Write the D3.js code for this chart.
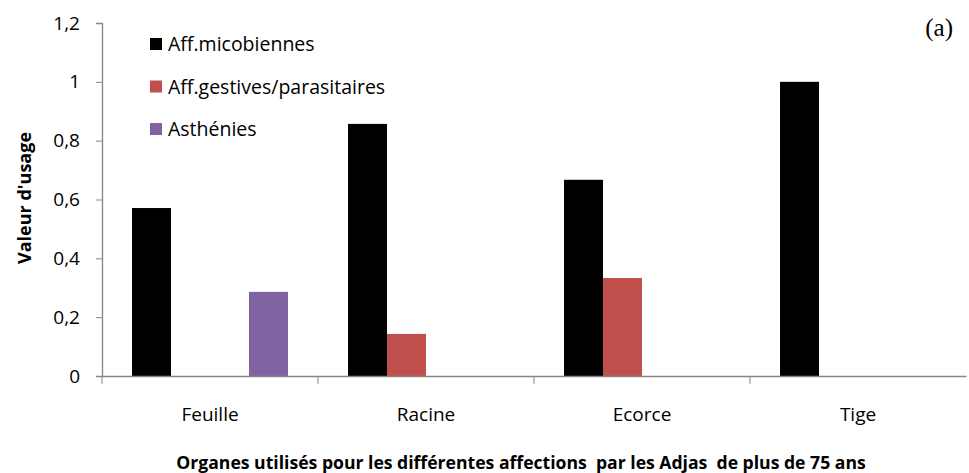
<!DOCTYPE html>
<html>
<head>
<meta charset="utf-8">
<script src="https://cdn.jsdelivr.net/npm/d3@7"></script>
<style>
  body { margin: 0; background: #fff; }
  text { font-family: "Open Sans", "Noto Sans", sans-serif; fill: #000; }
</style>
</head>
<body>
<svg width="969" height="473"></svg>
<script>
// data
var categories = ["Feuille", "Racine", "Ecorce", "Tige"];
var seriesNames = ["Aff.micobiennes", "Aff.gestives/parasitaires", "Asthénies"];
var seriesColors = ["#000000", "#c0504d", "#8064a2"];
// slot of each series inside a category (slot 2 is an empty series in the original)
var seriesSlots = [0, 1, 3];
var micobiennes = [0.571, 0.857, 0.667, 1];
var gestives = [0, 0.143, 0.333, 0];
var asthenies = [0.286, 0, 0, 0];
var yTicks = [0, 0.2, 0.4, 0.6, 0.8, 1, 1.2];

var values = [micobiennes, gestives, asthenies];

var svg = d3.select("svg");
var margin = {left: 102, right: 3, top: 23, bottom: 97};
var width = 969 - margin.left - margin.right,
    height = 473 - margin.top - margin.bottom;

var g = svg.append("g").attr("transform", "translate(" + margin.left + "," + margin.top + ")");

var x = d3.scaleBand().domain(categories).range([0, width]);
var slot = d3.scaleBand().domain([0, 1, 2, 3]).range([0, x.bandwidth()]).paddingOuter(0.77).paddingInner(0);
var y = d3.scaleLinear().domain([0, 1.2]).range([height, 0]);

var fmt = function(d) { return String(d3.format(".1~f")(d)).replace(".", ","); };

// bars
values.forEach(function(vals, si) {
  g.append("g").selectAll("rect")
    .data(vals.map(function(v, i) { return {cat: categories[i], v: v}; }).filter(function(d) { return d.v > 0; }))
    .enter().append("rect")
    .attr("x", function(d) { return x(d.cat) + slot(seriesSlots[si]); })
    .attr("width", slot.bandwidth())
    .attr("y", function(d) { return y(d.v); })
    .attr("height", function(d) { return height - y(d.v); })
    .attr("fill", seriesColors[si]);
});

// axes
var yAxis = g.append("g").call(d3.axisLeft(y).tickValues(yTicks).tickFormat(fmt).tickSize(6).tickPadding(16));
var xAxis = g.append("g").attr("transform", "translate(0," + height + ")")
  .call(d3.axisBottom(x).tickSize(0).tickPadding(32));
// x ticks at category boundaries
xAxis.selectAll(".bound").data(categories).enter().append("line")
  .attr("x1", function(d) { return x(d); }).attr("x2", function(d) { return x(d); })
  .attr("y1", 0).attr("y2", 8).attr("stroke", "#868686");

svg.selectAll(".domain").attr("stroke", "#868686").attr("stroke-width", 1.3);
yAxis.selectAll(".tick line").attr("stroke", "#868686");
yAxis.selectAll("text").style("font-size", "19px").attr("fill", "#000");
xAxis.selectAll(".tick text").style("font-size", "19px").attr("fill", "#000");

// legend
var legend = svg.append("g").attr("transform", "translate(150,43)");
seriesNames.forEach(function(n, i) {
  var row = legend.append("g").attr("transform", "translate(0," + (i * 42.5) + ")");
  row.append("rect").attr("x", 0).attr("y", -5).attr("width", 12).attr("height", 12).attr("fill", seriesColors[i]);
  row.append("text").attr("x", 18).attr("y", 8).style("font-size", "19.5px").text(n);
});

// axis titles
svg.append("text")
  .attr("transform", "translate(31,198) rotate(-90)")
  .attr("text-anchor", "middle")
  .style("font-size", "18px").style("font-weight", "bold")
  .text("Valeur d'usage");

svg.append("text")
  .attr("x", 521).attr("y", 469)
  .attr("text-anchor", "middle")
  .style("font-size", "17.6px").style("font-weight", "bold")
  .style("white-space", "pre")
  .text("Organes utilisés pour les différentes affections  par les Adjas  de plus de 75 ans");

svg.append("text")
  .attr("x", 953).attr("y", 36)
  .attr("text-anchor", "end")
  .style("font-family", "'Liberation Serif', serif").style("font-size", "25px")
  .text("(a)");
</script>
</body>
</html>
